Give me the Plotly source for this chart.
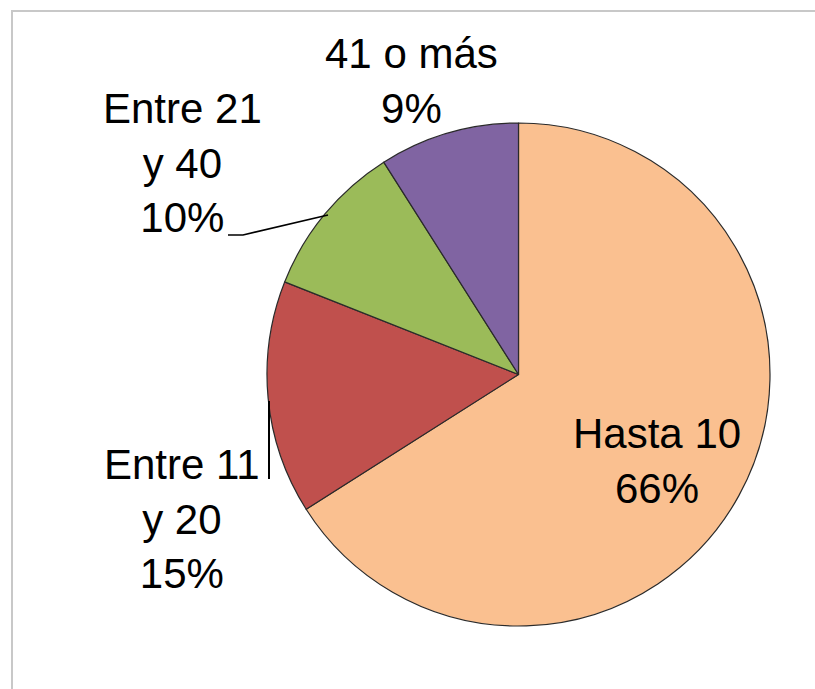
import plotly.graph_objects as go

W, H = 815, 689

labels = ["Hasta 10", "Entre 11 y 20", "Entre 21 y 40", "41 o más"]
values = [66, 15, 10, 9]
colors = ["#FAC090", "#C0504D", "#9BBB59", "#8064A2"]

# label text shown in the chart, one entry per slice
label_text = ["Hasta 10<br>66%", "Entre 11<br>y 20<br>15%", "Entre 21<br>y 40<br>10%", "41 o más<br>9%"]
# label centres in pixels (x, y)
label_pos = [(657, 461), (182, 519), (182, 163), (411, 81)]

FONT = dict(family="Liberation Sans, Arial, sans-serif", color="#000000", size=42)


def px(x, y):
    return x / W, 1 - y / H


fig = go.Figure(
    go.Pie(
        labels=labels,
        values=values,
        sort=False,
        direction="clockwise",
        rotation=0,
        marker=dict(colors=colors, line=dict(color="#2a2a2a", width=1.2)),
        textinfo="none",
        hoverinfo="label+percent",
        domain=dict(x=[267 / W, 770 / W], y=[1 - 626 / H, 1 - 123 / H]),
    )
)

annotations = []
for txt, (x, y) in zip(label_text, label_pos):
    ax, ay = px(x, y)
    annotations.append(
        dict(text=txt, x=ax, y=ay, xref="paper", yref="paper", xanchor="center", yanchor="middle",
             showarrow=False, font=FONT, align="center")
    )

# leader lines and outer frame
p1, p2, p3 = px(228, 235), px(243, 235), px(328, 215)
v1, v2 = px(269, 401), px(269, 479)
b1, b2 = px(12, 11), px(840, 720)
shapes = [
    dict(type="path", xref="paper", yref="paper",
         path=f"M {p1[0]} {p1[1]} L {p2[0]} {p2[1]} L {p3[0]} {p3[1]}",
         line=dict(color="#000000", width=1.6)),
    dict(type="line", xref="paper", yref="paper", x0=v1[0], y0=v1[1], x1=v2[0], y1=v2[1],
         line=dict(color="#000000", width=2)),
    dict(type="rect", xref="paper", yref="paper", x0=b1[0], y0=b1[1], x1=b2[0], y1=b2[1],
         line=dict(color="#C8C8C8", width=2)),
]

fig.update_layout(
    width=W,
    height=H,
    margin=dict(l=0, r=0, t=0, b=0),
    paper_bgcolor="#FFFFFF",
    plot_bgcolor="#FFFFFF",
    showlegend=False,
    annotations=annotations,
    shapes=shapes,
    font=FONT,
)

fig.write_html(
    "out.html",
    config={"displayModeBar": False},
    post_script="document.body.style.margin='0';document.body.style.overflow='hidden';",
)
